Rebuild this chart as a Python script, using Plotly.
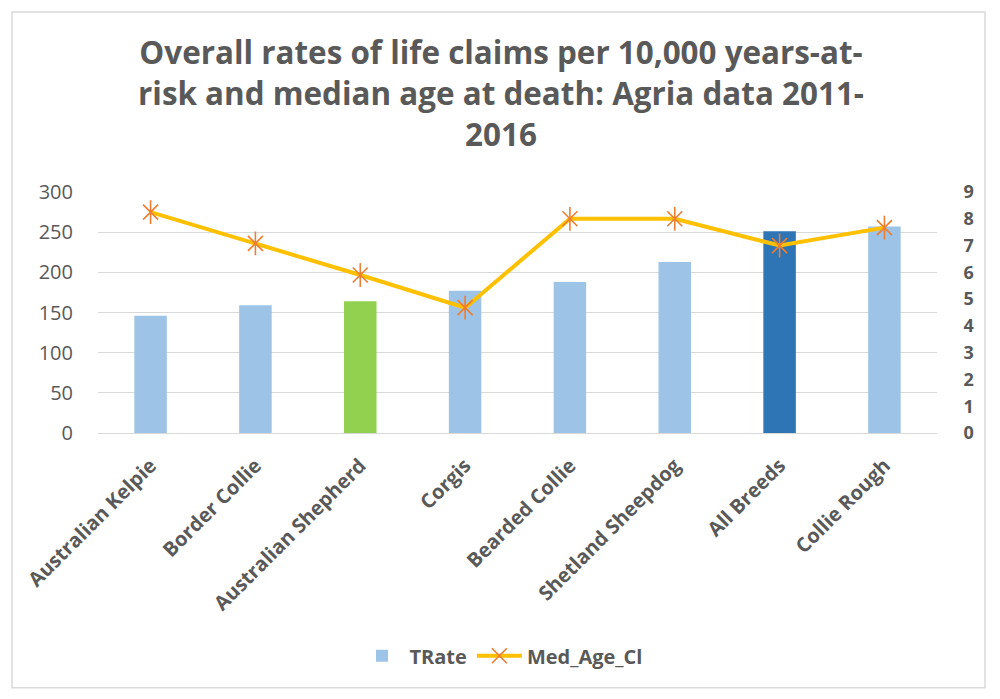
import plotly.graph_objects as go

categories = ["Australian Kelpie", "Border Collie", "Australian Shepherd", "Corgis",
              "Bearded Collie", "Shetland Sheepdog", "All Breeds", "Collie Rough"]
trate = [146, 159, 164, 177, 188, 213, 251, 257]
med_age = [8.25, 7.08, 5.9, 4.68, 8.0, 8.0, 7.0, 7.67]
bar_colors = ["#9DC3E6", "#9DC3E6", "#92D050", "#9DC3E6", "#9DC3E6", "#9DC3E6", "#2E75B6", "#9DC3E6"]
left_ticks = [0, 50, 100, 150, 200, 250, 300]
right_ticks = [0, 1, 2, 3, 4, 5, 6, 7, 8, 9]

FONT = "Open Sans"
GRAY = "#595959"
OFF = 8  # page body margin

# plot area in reference pixels
PL, PR, PT, PB = 98, 937, 191.7, 433.5
PW, PH = PR - PL, PB - PT

fig = go.Figure()
fig.add_trace(go.Bar(x=categories, y=trate, name="TRate",
                     marker=dict(color=bar_colors, line=dict(width=0)),
                     yaxis="y"))
fig.add_trace(go.Scatter(x=categories, y=med_age, name="Med_Age_Cl", yaxis="y2",
                         mode="lines+markers",
                         line=dict(color="#FFC000", width=4),
                         marker=dict(symbol="x-thin-open", size=15,
                                     line=dict(color="#ED7D31", width=1.6),
                                     color="#ED7D31")))
fig.add_trace(go.Scatter(x=categories, y=med_age, name="Med_Age_Cl", yaxis="y2",
                         mode="markers", showlegend=False,
                         marker=dict(symbol="line-ns-open", size=17,
                                     line=dict(color="#ED7D31", width=1.6),
                                     color="#ED7D31")))

fig.update_layout(
    width=1000, height=699,
    paper_bgcolor="white", plot_bgcolor="white",
    margin=dict(l=PL - OFF, r=1000 - (PR - OFF), t=PT - OFF, b=699 - (PB - OFF), pad=0,
                autoexpand=False),
    bargap=0.69,
    font=dict(family=FONT, color=GRAY),
    title=dict(text="Overall rates of life claims per 10,000 years-at-<br>risk and median age at death: Agria data 2011-<br>2016",
               x=(501 - OFF) / 1000, xref="container", xanchor="center",
               y=1 - 56 / 699, yref="container", yanchor="middle",
               font=dict(family=FONT, size=31.4, color=GRAY, weight="bold")),
    xaxis=dict(tickangle=-45,
               tickfont=dict(size=20, color=GRAY, weight="bold"),
               showgrid=False, showline=True, linecolor="#D9D9D9", linewidth=1,
               ticks="", ticklabelstandoff=12, automargin=False),
    yaxis=dict(range=[0, 300], tickvals=left_ticks, tickfont=dict(size=20, color=GRAY),
               showgrid=True, gridcolor="#D9D9D9", gridwidth=1, zeroline=False,
               showline=False, ticks="", ticklabelstandoff=24, automargin=False),
    yaxis2=dict(range=[0, 9], tickvals=right_ticks, overlaying="y", side="right",
                tickfont=dict(size=18, color=GRAY, weight="bold"),
                showgrid=False, zeroline=False, showline=False,
                ticks="outside", ticklen=22, tickcolor="rgba(255,255,255,0)",
                automargin=False),
    legend=dict(orientation="h", x=(501 - PL) / PW, xanchor="center",
                y=(PB - 657) / PH, yanchor="middle", itemwidth=45,
                font=dict(size=20, color=GRAY, weight="bold"),
                bgcolor="rgba(0,0,0,0)"),
    shapes=[dict(type="rect", xref="paper", yref="paper",
                 x0=(12 - PL) / PW, x1=(985 - PL) / PW,
                 y0=(PB - 689) / PH, y1=(PB - 11) / PH,
                 line=dict(color="#D9D9D9", width=1.5), fillcolor="rgba(0,0,0,0)",
                 layer="below")],
)

fig.write_html("out.html")
